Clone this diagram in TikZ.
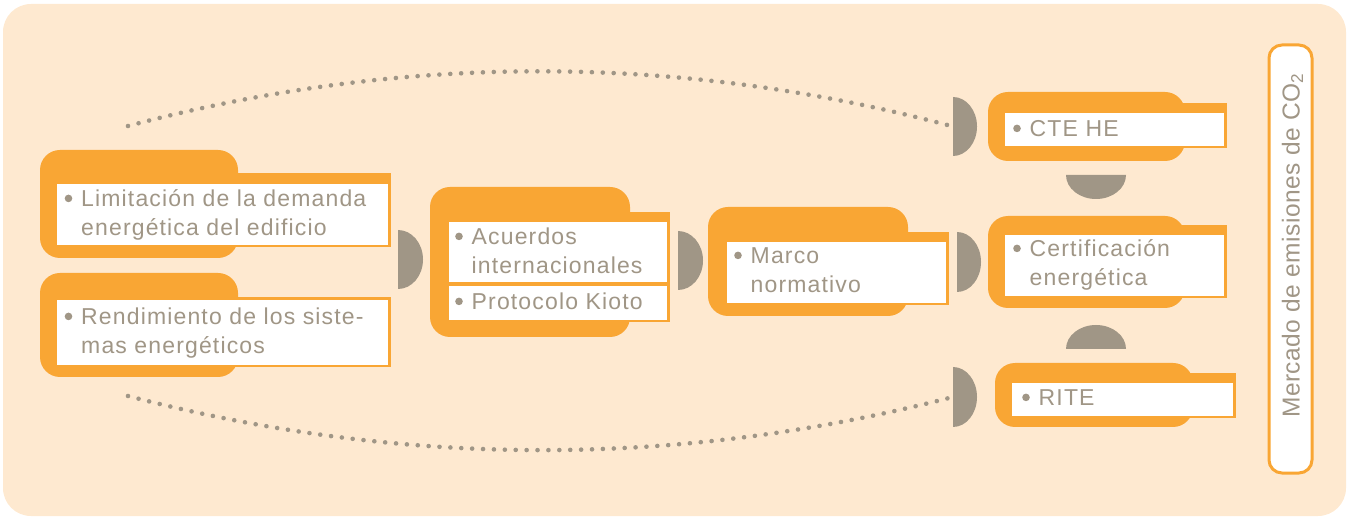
\documentclass[tikz,border=0pt]{standalone}
\usepackage{fontspec}
\setmainfont[LetterSpace=5]{Liberation Sans}
\newfontfamily\mercadofont[LetterSpace=2]{Liberation Sans}
\usepackage{tikz}

\definecolor{fondo}{RGB}{254,233,208}
\definecolor{naranja}{RGB}{249,166,52}
\definecolor{gris}{RGB}{160,150,134}
\newcommand{\punto}{\makebox[16.5pt][l]{\tikz[baseline=0pt]\fill[gris] (3.8pt,8.6pt) circle[radius=3.8pt];}}

\begin{document}
\begin{tikzpicture}[x=1pt, y=1pt,
    pestana/.style={fill=naranja, rounded corners=20pt},
    marco/.style={fill=naranja},
    hoja/.style={fill=white},
    medialuna/.style={fill=gris},
    punteado/.style={gris, line width=4.6pt, line cap=round, dash pattern=on 0pt off 10.9pt},
    texto/.style={anchor=base west, inner sep=0pt, text=gris, font=\fontsize{23}{28.5}\selectfont}]
          \useasboundingbox (0,0) rectangle (1347,517);
          \fill[fondo, rounded corners=28pt] (3,1) rectangle (1346,513);
          % izquierda
          \fill[pestana] (40,259) rectangle (238,367);
          \fill[marco] (54,270) rectangle (391,344);
          \fill[hoja] (57,272) rectangle (388,333);
          \node[texto] (lim) at (64.5,310) {\punto\begin{tabular}[t]{@{}l@{}}Limitación de la demanda\\energética del edificio\end{tabular}};
          \fill[pestana] (40,140) rectangle (238,244);
          \fill[marco] (54,150) rectangle (391,220);
          \fill[hoja] (57,152) rectangle (388,217);
          \node[texto] (ren) at (64.5,192) {\punto\begin{tabular}[t]{@{}l@{}}Rendimiento de los siste-\\mas energéticos\end{tabular}};
          % acuerdos
          \fill[pestana] (430,180) rectangle (630,330);
          \fill[marco] (446,195) rectangle (670,305);
          \fill[hoja] (449,235) rectangle (667,295);
          \fill[hoja] (449,197) rectangle (667,231);
          \node[texto] (acu) at (455,272) {\punto\begin{tabular}[t]{@{}l@{}}Acuerdos\\internacionales\end{tabular}};
          \node[texto] (kio) at (455,207) {\punto Protocolo Kioto};
          % marco normativo
          \fill[pestana] (708,201) rectangle (908,310);
          \fill[marco] (724,212) rectangle (949,285);
          \fill[hoja] (727,214) rectangle (946,275);
          \node[texto] (mar) at (734,253) {\punto\begin{tabular}[t]{@{}l@{}}Marco\\normativo\end{tabular}};
          % derecha
          \fill[pestana] (988,356) rectangle (1185,425);
          \fill[marco] (1002,369) rectangle (1227,414);
          \fill[hoja] (1005,371) rectangle (1224,404);
          \node[texto] (cte) at (1013,380) {\punto CTE HE};
          \fill[pestana] (988,209) rectangle (1185,301);
          \fill[marco] (1002,219) rectangle (1227,292);
          \fill[hoja] (1005,221) rectangle (1224,282);
          \node[texto] (cer) at (1013,260) {\punto\begin{tabular}[t]{@{}l@{}}Certificación\\energética\end{tabular}};
          \fill[pestana] (995,90) rectangle (1193,154);
          \fill[marco] (1009,99) rectangle (1236,144);
          \fill[hoja] (1012,101) rectangle (1233,134);
          \node[texto] (rit) at (1022,111) {\punto RITE};
          % medias lunas
          \coordinate (m1) at (398,257.5);
          \coordinate (m2) at (678,256.5);
          \coordinate (m3) at (957,255);
          \coordinate (mcte) at (953,390.5);
          \coordinate (mrit) at (953,120);
          \coordinate (mbaja) at (1096,342);
          \coordinate (msube) at (1096,168);
          \fill[medialuna] (m1) ++(0,-29.5) arc[start angle=-90, end angle=90, x radius=25pt, y radius=29.5pt] -- cycle;
          \fill[medialuna] (m2) ++(0,-29.5) arc[start angle=-90, end angle=90, x radius=25pt, y radius=29.5pt] -- cycle;
          \fill[medialuna] (m3) ++(0,-30) arc[start angle=-90, end angle=90, x radius=24pt, y radius=30pt] -- cycle;
          \fill[medialuna] (mcte) ++(0,-29.5) arc[start angle=-90, end angle=90, x radius=24pt, y radius=29.5pt] -- cycle;
          \fill[medialuna] (mrit) ++(0,-30) arc[start angle=-90, end angle=90, x radius=24pt, y radius=30pt] -- cycle;
          \fill[medialuna] (mbaja) ++(-30,0) arc[start angle=180, end angle=360, x radius=30pt, y radius=24pt] -- cycle;
          \fill[medialuna] (msube) ++(30,0) arc[start angle=0, end angle=180, x radius=30pt, y radius=24pt] -- cycle;
          % punteados
          \coordinate (ini1) at (128,391);
          \coordinate (ini2) at (128,121);
          \draw[punteado] (ini1) .. controls (403,464) and (678,464) .. (mcte);
          \draw[punteado] (ini2) .. controls (403,49) and (678,49) .. (mrit);
          % mercado
          \draw[naranja, line width=3pt, fill=white, rounded corners=13pt] (1269,44) rectangle (1312,472);
          \node[texto, rotate=90, font=\mercadofont\fontsize{24.5}{28}\selectfont] (mer) at (1299.5,99) {Mercado de emisiones de CO\textsubscript{2}};
        \end{tikzpicture}
\end{document}
